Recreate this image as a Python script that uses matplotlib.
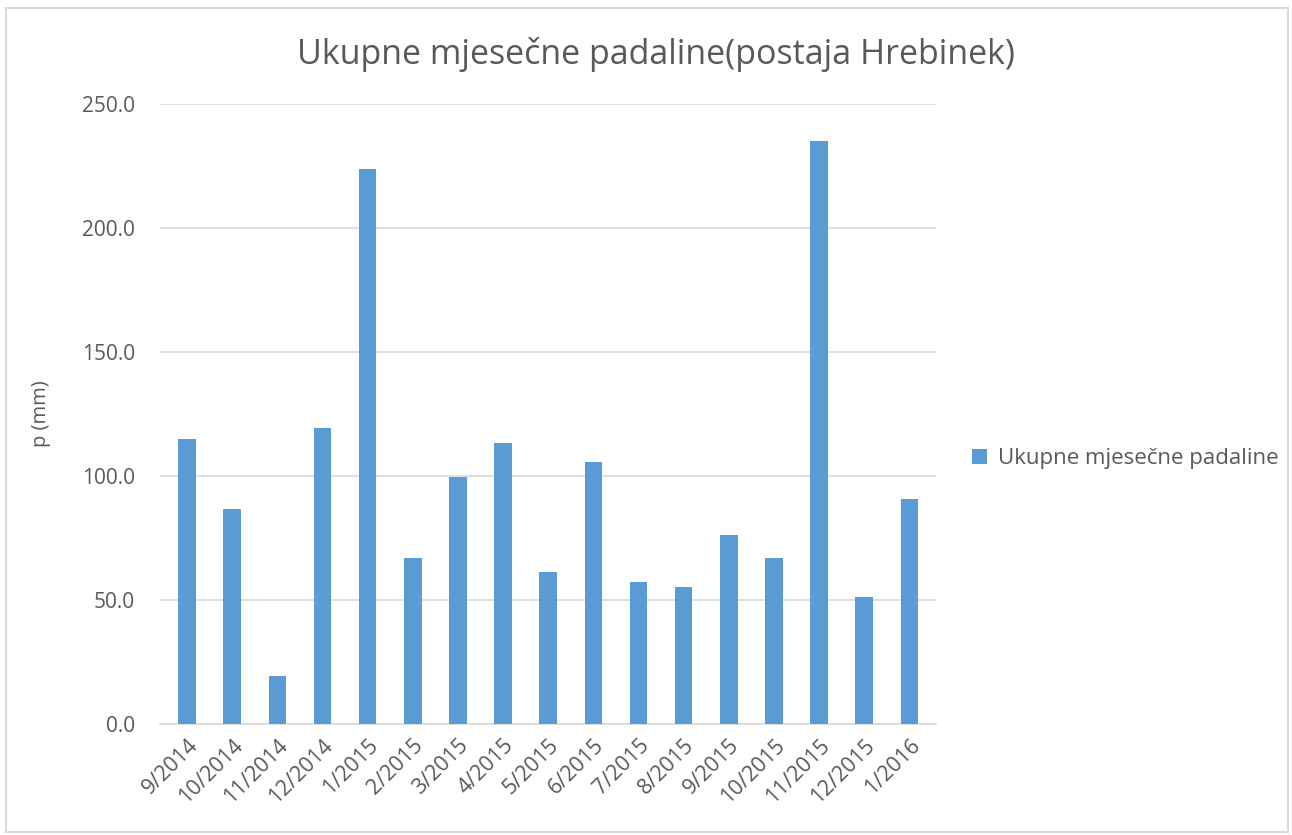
import matplotlib.pyplot as plt
from matplotlib.patches import Rectangle, Patch

plt.rcParams['font.family'] = ['Open Sans', 'DejaVu Sans']

months = ['9/2014', '10/2014', '11/2014', '12/2014', '1/2015', '2/2015', '3/2015',
          '4/2015', '5/2015', '6/2015', '7/2015', '8/2015', '9/2015', '10/2015',
          '11/2015', '12/2015', '1/2016']
padaline = [114.9, 86.8, 19.4, 119.5, 223.8, 66.9, 99.8, 113.3, 61.3, 105.8,
            57.4, 55.4, 76.3, 67.0, 235.1, 51.2, 90.6]
y_ticks = [0, 50, 100, 150, 200, 250]

bar_color = '#5B9BD5'
text_color = '#595959'
grid_color = '#D9D9D9'

fig = plt.figure(figsize=(12.92, 8.35), dpi=100)
fig.patches.append(Rectangle((0.005, 0.003), 0.992, 0.987, transform=fig.transFigure,
                             fill=False, edgecolor='#D9D9D9', linewidth=1.5))

ax = fig.add_axes([0.1238, 0.1329, 0.601, 0.7425])
x = range(len(months))
ax.bar(x, padaline, width=0.39, color=bar_color, zorder=3)

ax.set_xlim(-0.6, len(months) - 0.4)
ax.set_ylim(0, 250)
ax.set_yticks(y_ticks)
ax.set_yticklabels([f'{v:.1f}' for v in y_ticks], fontsize=15, color=text_color)
ax.set_xticks(list(x))
ax.set_xticklabels(months, rotation=45, ha='right', rotation_mode='anchor',
                   fontsize=15.5, color=text_color)
ax.tick_params(axis='y', length=0, pad=18)
ax.tick_params(axis='x', length=0, pad=8)
ax.grid(axis='y', color=grid_color, linewidth=1.2, zorder=0)
for side in ['top', 'right', 'left']:
    ax.spines[side].set_visible(False)
ax.spines['bottom'].set_color(grid_color)
ax.spines['bottom'].set_linewidth(1.2)

ax.set_ylabel('p (mm)', fontsize=14.5, color=text_color, labelpad=22)
fig.suptitle('Ukupne mjesečne padaline(postaja Hrebinek)', fontsize=24.5,
             color=text_color, x=0.508, y=0.956)

handle = Patch(facecolor=bar_color, edgecolor='none')
fig.legend([handle], ['Ukupne mjesečne padaline'], loc='center left',
           bbox_to_anchor=(0.737, 0.451), frameon=False, fontsize=16,
           labelcolor=text_color, handlelength=0.65, handleheight=0.65,
           handletextpad=0.5)

fig.savefig('out.png', dpi=100)
